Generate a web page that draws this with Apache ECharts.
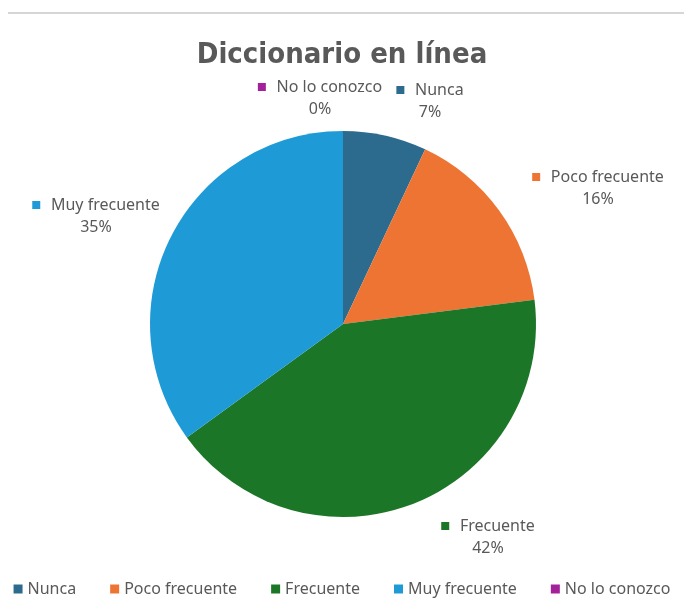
<!DOCTYPE html>
<html>
<head>
<meta charset="utf-8">
<script src="https://cdn.jsdelivr.net/npm/echarts@6/dist/echarts.min.js"></script>
<style>
  html, body { margin: 0; padding: 0; background: #fff; }
  #chart { width: 684px; height: 612px; }
</style>
</head>
<body>
<div id="chart"></div>
<script>
// Survey answers: how often an online dictionary is used
const categories = ['Nunca', 'Poco frecuente', 'Frecuente', 'Muy frecuente', 'No lo conozco'];
const percentages = [7, 16, 42, 35, 0];
const colors = ['#2C6A8E', '#EE7434', '#1C7628', '#1E9BD7', '#A3229B'];

// Where each data label sits (label centre, px)
const labelSpots = [
  [430, 101],
  [598, 188],
  [488, 537],
  [96, 216],
  [320, 98]
];

const textColor = '#595959';
const fontFamily = '"Noto Sans", "DejaVu Sans", sans-serif';
const fontSize = 16;

const chart = echarts.init(document.getElementById('chart'), null, { renderer: 'canvas' });

const richStyles = { name: { fontSize: fontSize, color: textColor, fontFamily: fontFamily, lineHeight: 22, padding: [0, 0, 0, 4] },
                     pct: { fontSize: fontSize, color: textColor, fontFamily: fontFamily, lineHeight: 22 } };
colors.forEach((c, i) => {
  richStyles['m' + i] = { width: 8, height: 8, backgroundColor: c };
});

chart.setOption({
  animation: false,
  backgroundColor: '#ffffff',
  title: {
    text: 'Diccionario en línea',
    left: 'center',
    top: 36,
    textStyle: {
      fontFamily: '"DejaVu Sans Condensed", "DejaVu Sans", sans-serif',
      fontWeight: 'bold',
      fontSize: 29,
      color: textColor
    }
  },
  graphic: [{
    type: 'rect',
    shape: { x: 8, y: 12, width: 676, height: 2 },
    style: { fill: '#d6d6d6' },
    silent: true
  }],
  legend: {
    bottom: 10,
    left: 'center',
    itemWidth: 9,
    itemHeight: 9,
    itemGap: 34,
    icon: 'rect',
    data: categories,
    textStyle: { fontSize: fontSize, color: textColor, fontFamily: fontFamily, padding: [0, 0, 0, 0] }
  },
  series: [{
    type: 'pie',
    center: [343, 324],
    radius: [0, 193],
    startAngle: 90,
    clockwise: true,
    stillShowZeroSum: true,
    minShowLabelAngle: 0,
    avoidLabelOverlap: false,
    itemStyle: { borderWidth: 0 },
    emphasis: { disabled: true },
    data: categories.map((name, i) => ({
      name: name,
      value: percentages[i],
      itemStyle: { color: colors[i] }
    })),
    label: {
      show: true,
      position: 'outside',
      align: 'center',
      formatter: function (p) {
        return '{m' + p.dataIndex + '|}  {name|' + p.name + '}\n{pct|' + p.value + '%}';
      },
      rich: richStyles
    },
    labelLine: { show: false },
    labelLayout: function (params) {
      const s = labelSpots[params.dataIndex];
      return { x: s[0], y: s[1], align: 'center', verticalAlign: 'middle' };
    }
  }]
});
</script>
</body>
</html>
